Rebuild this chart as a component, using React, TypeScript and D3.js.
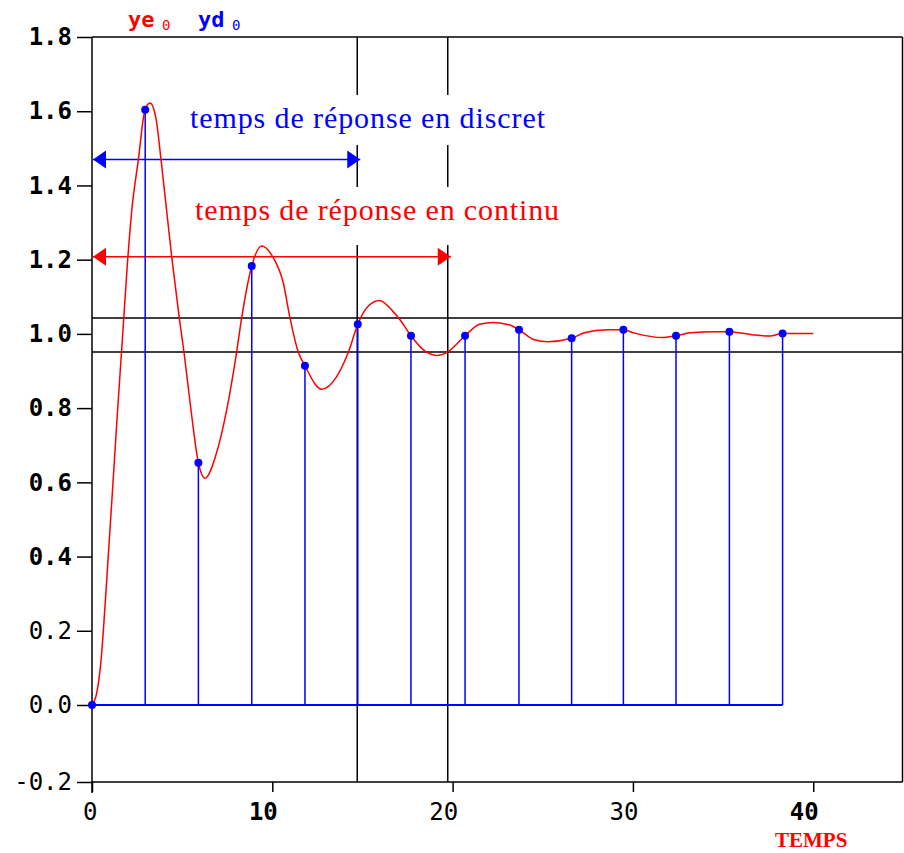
import React, { useEffect, useRef } from "react";
import * as d3 from "d3";

// continuous response ye0
const contTime = [0, 0.26, 0.5, 0.63, 0.9, 1.15, 1.4, 1.65, 1.95, 2.2, 2.57, 2.94, 3.22, 3.55, 3.83, 4.42, 4.84, 5.1, 5.49, 5.9, 6.27, 6.85, 7.47, 8.02, 8.3, 8.86, 9.41, 10.02, 10.61, 10.98, 11.44, 11.81, 12.74, 13.57, 14.22, 14.74, 15.3, 15.94, 16.7, 17.08, 17.69, 18.38, 19.12, 19.72, 20.69, 21.5, 22.26, 23.18, 23.68, 24.5, 25.3, 26.6, 27.3, 28.6, 29.47, 30.1, 31.6, 32.39, 33.2, 34.6, 35.35, 36.6, 37.6, 38.3, 40];
const contValue = [0, 0.032, 0.12, 0.2, 0.4, 0.588, 0.78, 0.96, 1.18, 1.33, 1.469, 1.604, 1.622, 1.58, 1.469, 1.208, 1.043, 0.951, 0.795, 0.653, 0.611, 0.67, 0.795, 0.951, 1.043, 1.183, 1.237, 1.208, 1.137, 1.043, 0.951, 0.914, 0.851, 0.885, 0.951, 1.026, 1.074, 1.09, 1.06, 1.038, 0.995, 0.957, 0.942, 0.951, 0.995, 1.026, 1.031, 1.024, 1.011, 0.985, 0.979, 0.988, 1.003, 1.011, 1.011, 1.002, 0.99, 0.995, 1.003, 1.006, 1.006, 0.998, 0.994, 1.001, 1.001];

// sampled response yd0
const sampleTime = [0, 2.95, 5.9, 8.86, 11.81, 14.74, 17.69, 20.69, 23.68, 26.6, 29.47, 32.39, 35.35, 38.3];
const sampleValue = [0, 1.604, 0.653, 1.183, 0.914, 1.026, 0.995, 0.995, 1.011, 0.988, 1.011, 0.995, 1.006, 1.001];

// +/- 5% band and response times
const bandValues = [1.043, 0.951];
const discreteResponseTime = 14.71;
const continuousResponseTime = 19.73;

const yTicks = [-0.2, 0, 0.2, 0.4, 0.6, 0.8, 1.0, 1.2, 1.4, 1.6, 1.8];
const xTicks = [0, 10, 20, 30, 40];
const lightYTicks = [-0.2, 0, 0.2];
const lightXTicks = [0, 20, 30];

const WIDTH = 904;
const HEIGHT = 853;
const RED = "#ff0000";
const BLUE = "#0000ff";
const MONO = "'DejaVu Sans Mono', monospace";
const SERIF = "'Liberation Serif', 'Times New Roman', serif";

function App() {
  const ref = useRef<SVGSVGElement | null>(null);

  useEffect(() => {
    drawChart();
  }, []);

  function drawChart() {
    const svg = d3.select(ref.current);
    svg.selectAll("*").remove();

    const x = d3.scaleLinear().domain([0, 45]).range([92, 903.4]);
    // the original plot's pixel grid is a bit uneven below zero
    const y = d3.scaleLinear().domain([-0.2, 0, 1.8]).range([782, 705, 37]);
    const left = x(0);
    const right = 902.5;
    const top = y(1.8);
    const bottom = y(-0.2);

    // frame
    svg.append("line").attr("x1", left).attr("x2", right).attr("y1", top).attr("y2", top)
      .attr("stroke", "#000").attr("stroke-width", 1.5);
    svg.append("line").attr("x1", right).attr("x2", right).attr("y1", top).attr("y2", bottom)
      .attr("stroke", "#000").attr("stroke-width", 1.5);

    // y axis
    const yAxis = svg.append("g").attr("transform", `translate(${left},0)`)
      .call(d3.axisLeft(y).tickValues(yTicks).tickSize(15).tickPadding(5));
    yAxis.select(".domain").remove();
    yAxis.selectAll(".tick line").attr("stroke", "#000").attr("stroke-width", 1.5);
    yAxis.selectAll(".tick text")
      .attr("font-family", MONO).attr("font-size", 24).attr("fill", "#000")
      .attr("font-weight", (d: any) => (lightYTicks.includes(d) ? "normal" : "bold"))
      .text((d: any) => d3.format(".1f")(d).replace("−", "-"));

    // x axis
    const xAxis = svg.append("g").attr("transform", `translate(0,${bottom})`)
      .call(d3.axisBottom(x).tickValues(xTicks).tickSize(10).tickPadding(11));
    xAxis.select(".domain").remove();
    xAxis.selectAll(".tick line").attr("stroke", "#000").attr("stroke-width", 1.5);
    xAxis.selectAll(".tick text")
      .attr("font-family", MONO).attr("font-size", 24).attr("fill", "#000")
      .attr("font-weight", (d: any) => (lightXTicks.includes(d) ? "normal" : "bold"))
      .attr("text-anchor", "end").attr("x", 5);

    svg.append("line").attr("x1", left).attr("x2", right).attr("y1", bottom).attr("y2", bottom)
      .attr("stroke", "#000").attr("stroke-width", 1.5);
    svg.append("line").attr("x1", left).attr("x2", left).attr("y1", top).attr("y2", bottom + 11)
      .attr("stroke", "#000").attr("stroke-width", 1.5);

    // band lines
    svg.selectAll(".band").data(bandValues).enter().append("line")
      .attr("x1", left).attr("x2", right)
      .attr("y1", (d) => y(d)).attr("y2", (d) => y(d))
      .attr("stroke", "#000").attr("stroke-width", 1.5);

    // response time verticals
    svg.selectAll(".rt").data([discreteResponseTime, continuousResponseTime]).enter().append("line")
      .attr("x1", (d) => x(d)).attr("x2", (d) => x(d))
      .attr("y1", top).attr("y2", bottom)
      .attr("stroke", "#000").attr("stroke-width", 1.5);

    // labels with white backgrounds
    svg.append("rect").attr("x", 185).attr("y", 95).attr("width", 368).attr("height", 50).attr("fill", "#fff");
    svg.append("rect").attr("x", 188).attr("y", 187).attr("width", 380).attr("height", 58).attr("fill", "#fff");
    svg.append("text").attr("x", 190).attr("y", 128)
      .attr("font-family", SERIF).attr("font-size", 30).attr("fill", BLUE)
      .attr("textLength", 355).attr("lengthAdjust", "spacing")
      .text("temps de réponse en discret");
    svg.append("text").attr("x", 195).attr("y", 220)
      .attr("font-family", SERIF).attr("font-size", 30).attr("fill", RED)
      .attr("textLength", 364).attr("lengthAdjust", "spacing")
      .text("temps de réponse en continu");

    // double arrows
    const arrows = [
      { t: discreteResponseTime, v: 1.47, color: BLUE },
      { t: continuousResponseTime, v: 1.208, color: RED },
    ];
    arrows.forEach((a) => {
      const yy = y(a.v);
      const x0 = left + 1;
      const x1 = x(a.t) + 3;
      svg.append("line").attr("x1", x0).attr("x2", x1).attr("y1", yy).attr("y2", yy)
        .attr("stroke", a.color).attr("stroke-width", 1.5);
      svg.append("path").attr("d", `M${x0},${yy}L${x0 + 13},${yy - 9}L${x0 + 13},${yy + 9}Z`).attr("fill", a.color);
      svg.append("path").attr("d", `M${x1},${yy}L${x1 - 13},${yy - 9}L${x1 - 13},${yy + 9}Z`).attr("fill", a.color);
    });

    // continuous curve
    const contData = contTime.map((t, i) => [t, contValue[i]] as [number, number]);
    const line = d3.line<[number, number]>()
      .x((d) => x(d[0]))
      .y((d) => y(d[1]))
      .curve(d3.curveMonotoneX);
    svg.append("path").attr("d", line(contData)).attr("fill", "none")
      .attr("stroke", RED).attr("stroke-width", 1.5);

    // sampled stems
    svg.append("line").attr("x1", x(0)).attr("x2", x(sampleTime[sampleTime.length - 1]))
      .attr("y1", y(0)).attr("y2", y(0)).attr("stroke", BLUE).attr("stroke-width", 2);
    const samples = sampleTime.map((t, i) => ({ t, v: sampleValue[i] }));
    const stem = svg.selectAll(".stem").data(samples).enter();
    stem.append("line")
      .attr("x1", (d) => x(d.t)).attr("x2", (d) => x(d.t))
      .attr("y1", (d) => y(d.v)).attr("y2", y(0))
      .attr("stroke", BLUE).attr("stroke-width", 1.5);
    stem.append("circle")
      .attr("cx", (d) => x(d.t)).attr("cy", (d) => y(d.v))
      .attr("r", 4).attr("fill", BLUE);

    // legend
    const legend = [
      { label: "ye", color: RED, x: 128 },
      { label: "yd", color: BLUE, x: 198 },
    ];
    legend.forEach((l) => {
      svg.append("text").attr("x", l.x).attr("y", 27)
        .attr("font-family", MONO).attr("font-weight", "bold").attr("font-size", 22)
        .attr("fill", l.color).text(l.label);
      svg.append("text").attr("x", l.x + 34).attr("y", 30)
        .attr("font-family", MONO).attr("font-size", 14)
        .attr("fill", l.color).text("0");
    });

    svg.append("text").attr("x", 775).attr("y", 847)
      .attr("font-family", SERIF).attr("font-weight", "bold").attr("font-size", 21)
      .attr("fill", RED).text("TEMPS");
  }

  return (
    <svg
      ref={ref}
      width={WIDTH}
      height={HEIGHT}
      style={{ position: "absolute", left: 0, top: 0, background: "#fff" }}
    />
  );
}

export default App;
